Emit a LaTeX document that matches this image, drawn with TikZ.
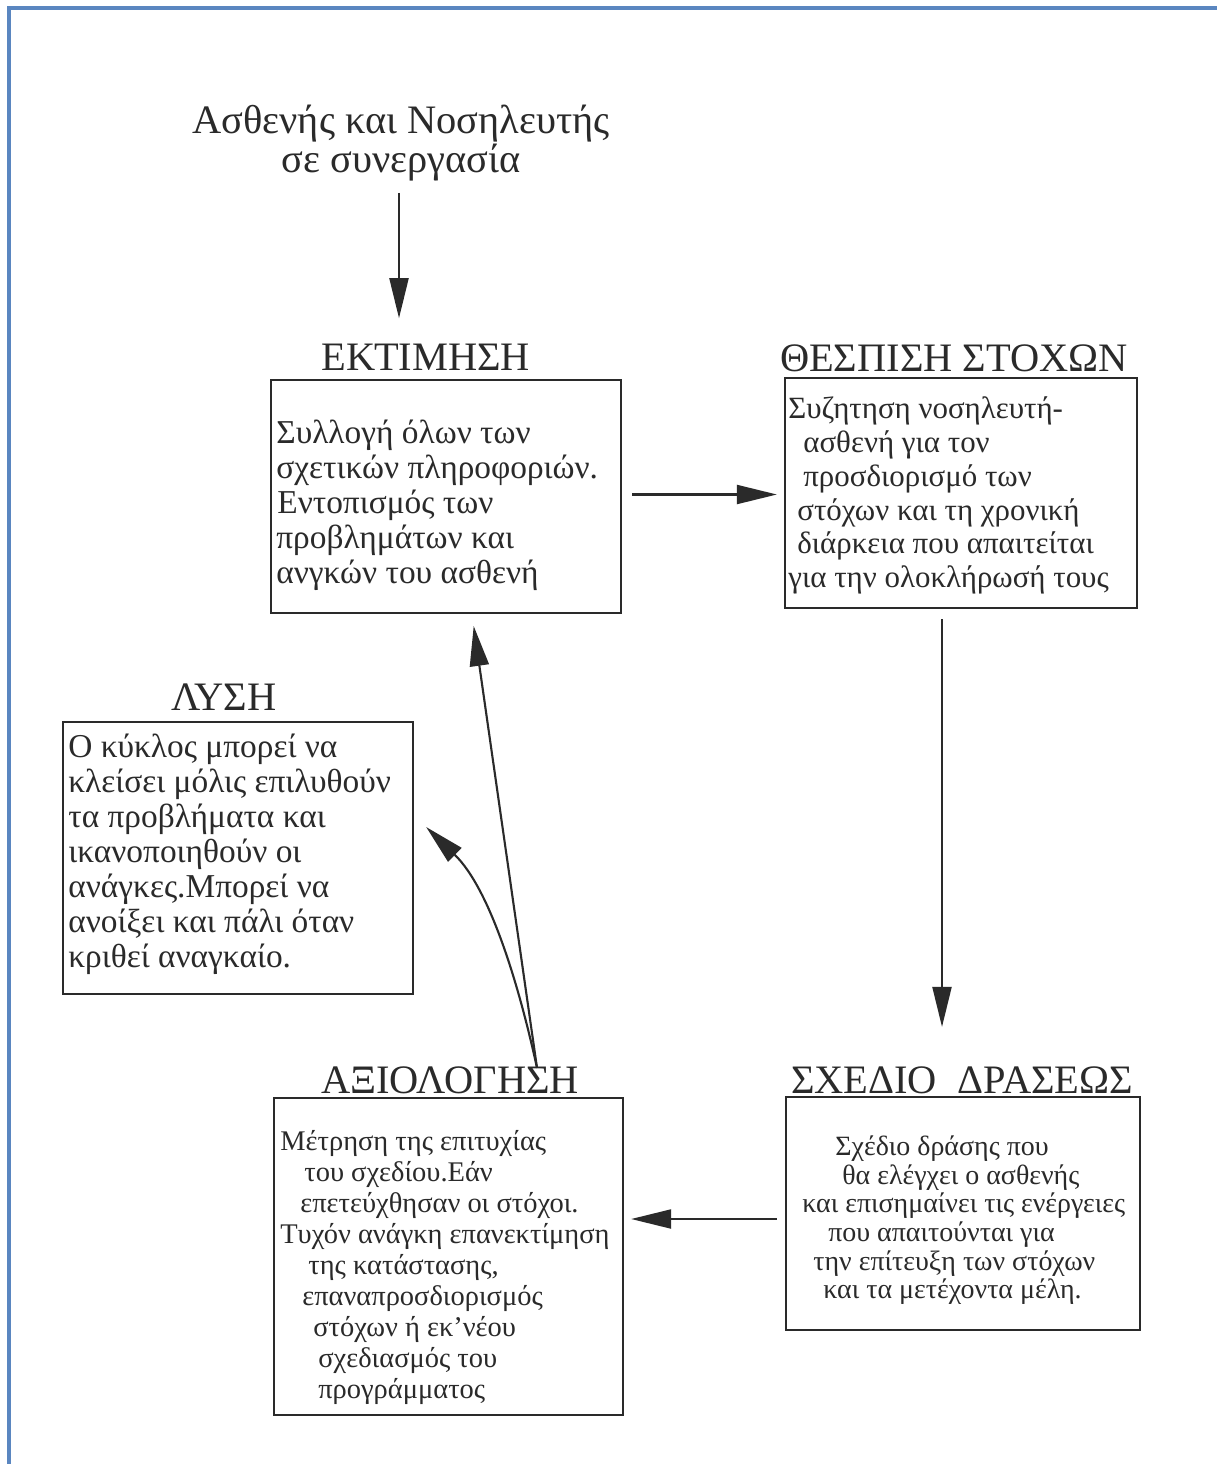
\documentclass[tikz,border=0pt]{standalone}
\usepackage{fontspec}
\setmainfont{Liberation Serif}
\usetikzlibrary{arrows.meta,fit,calc}
\definecolor{ink}{HTML}{2A2A2A}
\definecolor{frameblue}{HTML}{5A86C0}
\begin{document}
\begin{tikzpicture}[x=0.02cm,y=-0.02cm,
  box/.style={draw=ink, line width=1.3pt, inner sep=0pt},
  heading/.style={inner sep=0pt, text=ink, anchor=base, font=\fontsize{23}{27}\selectfont},
  bodyA/.style={inner sep=0pt, text=ink, anchor=base west, font=\fontsize{19}{21}\selectfont},
  bodyB/.style={inner sep=0pt, text=ink, anchor=base west, font=\fontsize{17.6}{20}\selectfont},
  bodyC/.style={inner sep=0pt, text=ink, anchor=base west, font=\fontsize{16.2}{18}\selectfont},
  bodyD/.style={inner sep=0pt, text=ink, anchor=base west, font=\fontsize{15.9}{18}\selectfont},
  arr/.style={draw=ink, line width=1.2pt, -{Triangle[length=0.8cm,width=0.38cm]}}]
\useasboundingbox (0,0) rectangle (1217,1464);
\fill[white] (0,0) rectangle (1217,1464);
% frame
\draw[frameblue, line width=1.8pt] (9,1464) -- (9,8) -- (1217,8);

% top text
\node[heading] (top1) at (401,133) {Ασθενής και Νοσηλευτής};
\node[heading] (top2) at (401,172) {σε συνεργασία};

% boxes
\node[box, fit={(271,380) (621,613)}] (ekt) {};
\node[box, fit={(785,378) (1137,608)}] (thes) {};
\node[box, fit={(63,722) (413,994)}] (lysi) {};
\node[box, fit={(274,1098) (623,1415)}] (ax) {};
\node[box, fit={(786,1097) (1140,1330)}] (sx) {};

% headings
\node[heading] (ektT) at (426,370) {ΕΚΤΙΜΗΣΗ};
\node[heading] (thesT) at (954,371) {ΘΕΣΠΙΣΗ ΣΤΟΧΩΝ};
\node[heading] (lysiT) at (224,710) {ΛΥΣΗ};
\node[heading] (axT) at (450,1093) {ΑΞΙΟΛΟΓΗΣΗ};
\node[heading] (sxT) at (962,1093) {ΣΧΕΔΙΟ\ \ ΔΡΑΣΕΩΣ};

% body texts
\foreach \xx/\yy/\txt [count=\i] in {
  276/443/{Συλλογή όλων των},
  276/478/{σχετικών πληροφοριών.},
  277/513/{Εντοπισμός των},
  276/548/{προβλημάτων και},
  276/583/{ανγκών του ασθενή}}
  \node[bodyA] (ektL\i) at (\xx,\yy) {\txt};

\foreach \xx/\yy/\txt [count=\i] in {
  788/418/{Συζητηση νοσηλευτή-},
  803/452/{ασθενή για τον},
  803/486/{προσδιορισμό των},
  797/520/{στόχων και τη χρονική},
  797/553/{διάρκεια που απαιτείται},
  788/587/{για την ολοκλήρωσή τους}}
  \node[bodyB] (thesL\i) at (\xx,\yy) {\txt};

\foreach \xx/\yy/\txt [count=\i] in {
  68/757/{Ο κύκλος μπορεί να},
  68/792/{κλείσει μόλις επιλυθούν},
  68/827/{τα προβλήματα και},
  68/862/{ικανοποιηθούν οι},
  68/897/{ανάγκες.Μπορεί να},
  68/932/{ανοίξει και πάλι όταν},
  68/967/{κριθεί αναγκαίο.}}
  \node[bodyA] (lysiL\i) at (\xx,\yy) {\txt};

\foreach \xx/\yy/\txt [count=\i] in {
  280/1150/{Μέτρηση της επιτυχίας},
  304/1181/{του σχεδίου.Εάν},
  300/1212/{επετεύχθησαν οι στόχοι.},
  280/1243/{Τυχόν ανάγκη επανεκτίμηση},
  308/1274/{της κατάστασης,},
  302/1305/{επαναπροσδιορισμός},
  313/1336/{στόχων ή εκ'νέου},
  318/1367/{σχεδιασμός του},
  318/1398/{προγράμματος}}
  \node[bodyC] (axL\i) at (\xx,\yy) {\txt};

\foreach \xx/\yy/\txt [count=\i] in {
  835/1155/{Σχέδιο δράσης που},
  842/1184/{θα ελέγχει ο ασθενής},
  802/1212/{και επισημαίνει τις ενέργειες},
  828/1241/{που απαιτούνται για},
  813/1270/{την επίτευξη των στόχων},
  823/1298/{και τα μετέχοντα μέλη.}}
  \node[bodyD] (sxL\i) at (\xx,\yy) {\txt};

% connectors
\path ($(top2.south)+(-2,0)$) coordinate (t0);
\draw[arr, shorten <=0.24cm, shorten >=0.5cm] (t0) -- (t0 |- ektT.north);

\path ($(ekt.east)+(0,-2)$) coordinate (e0);
\draw[arr, shorten <=0.2cm, shorten >=0.14cm] (e0) -- (e0 -| thes.west);

\path ($(thes.south)+(-19,0)$) coordinate (d0);
\draw[arr, shorten <=0.2cm, shorten >=0.78cm] (d0) -- (d0 |- sxT.north);

\path ($(sx.west)+(0,5.5)$) coordinate (h0);
\draw[arr, shorten <=0.16cm, shorten >=0.14cm] (h0) -- (h0 -| ax.east);

\path ($(axT.north)+(87,2)$) coordinate (u0);
\path ($(ekt.south)+(26,0)$) coordinate (u1);
\draw[arr, shorten >=0.24cm] (u0) -- (u1);

\path ($(lysi.east)+(12,-31)$) coordinate (v1);
\draw[arr] (u0) .. controls +(-17,-78) and +(65,63) .. (v1);
\end{tikzpicture}
\end{document}
